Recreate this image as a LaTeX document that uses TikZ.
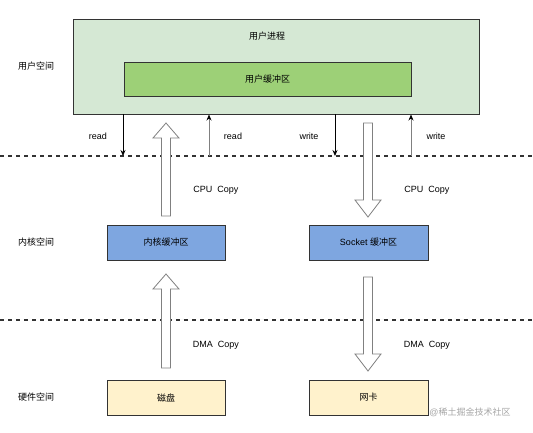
\documentclass[tikz,border=0pt]{standalone}
\usepackage{fontspec}
\setmainfont{Liberation Sans}
\newfontfamily\cjk{Noto Sans CJK SC}
\usetikzlibrary{arrows.meta}
\definecolor{outergreen}{HTML}{D5E8D4}
\definecolor{innergreen}{HTML}{9DD077}
\definecolor{kernblue}{HTML}{7EA6E0}
\definecolor{hwyellow}{HTML}{FFF2CC}
\definecolor{edgegray}{HTML}{333333}
\tikzset{
  box/.style={draw=edgegray, line width=0.8pt, inner sep=0pt, font=\fontsize{9}{10}\selectfont},
  lbl/.style={inner sep=0pt, font=\fontsize{9}{10}\selectfont},
  divider/.style={draw=edgegray, line width=1.3pt, dash pattern=on 4pt off 4pt},
  downarr/.style={draw=black, line width=0.8pt, -{Stealth[length=6pt,width=5pt]}},
  uparr/.style={draw=gray, line width=0.8pt, -{Stealth[length=6pt,width=5pt,color=black]}},
  hollow/.style={draw=gray, fill=white, line width=0.8pt, line join=miter},
}
\newcommand\hollowup[3]{% x, ybottom, ytop
  \draw[hollow] (#1-4.5,#2) -- (#1-4.5,#3+15) -- (#1-13,#3+15) -- (#1,#3) -- (#1+13,#3+15) -- (#1+4.5,#3+15) -- (#1+4.5,#2) -- cycle;}
\newcommand\hollowdown[3]{% x, ytop, ytip
  \draw[hollow] (#1-4.5,#2) -- (#1-4.5,#3-17) -- (#1-13,#3-17) -- (#1,#3) -- (#1+13,#3-17) -- (#1+4.5,#3-17) -- (#1+4.5,#2) -- cycle;}
\begin{document}
\begin{tikzpicture}[x=1pt,y=-1pt]
\useasboundingbox[fill=white] (0,0) rectangle (533,432);
% dividers
\coordinate (d1a) at (0,156); \coordinate (d1b) at (533,156);
\coordinate (d2a) at (0,320); \coordinate (d2b) at (533,320);
\draw[divider] (d1a) -- (d1b);
\draw[divider] (d2a) -- (d2b);
% user space
\node[box, fill=outergreen, minimum width=406pt, minimum height=95pt] (proc) at (276,66.5) {};
\node[lbl] (proclbl) at (267,36) {\cjk 用户进程};
\node[box, fill=innergreen, minimum width=287pt, minimum height=34pt] (ubuf) at (267.5,79) {\cjk 用户缓冲区};
% side labels
\node[lbl] (us) at (36,66) {\cjk 用户空间};
\node[lbl] (ks) at (36,242) {\cjk 内核空间};
\node[lbl] (hs) at (36,397) {\cjk 硬件空间};
% kernel boxes
\node[box, fill=kernblue, minimum width=118pt, minimum height=35pt] (kbuf) at (166,242.5) {\cjk 内核缓冲区};
\node[box, fill=kernblue, minimum width=119pt, minimum height=35pt] (sbuf) at (368.5,242.5) {Socket {\cjk 缓冲区}};
% hardware boxes
\node[box, fill=hwyellow, minimum width=118pt, minimum height=35pt] (disk) at (166,397.5) {\cjk 磁盘};
\node[box, fill=hwyellow, minimum width=119pt, minimum height=35pt] (nic) at (368.5,397.5) {\cjk 网卡};
% read/write arrows
\coordinate (r1s) at (123,114); \coordinate (r1e) at (123,156);
\coordinate (r2s) at (209,156); \coordinate (r2e) at (209,114.5);
\coordinate (w1s) at (335,114); \coordinate (w1e) at (335,156);
\coordinate (w2s) at (411,156); \coordinate (w2e) at (411,114.5);
\draw[downarr] (r1s) -- (r1e);
\draw[uparr] (r2s) -- (r2e);
\draw[downarr] (w1s) -- (w1e);
\draw[uparr] (w2s) -- (w2e);
\node[lbl] (rl1) at (98,136.5) {read};
\node[lbl] (rl2) at (233,136.5) {read};
\node[lbl] (wl1) at (309,136.5) {write};
\node[lbl] (wl2) at (436,136.5) {write};
% hollow copy arrows
\hollowup{166}{216}{123}
\hollowdown{368}{123}{217}
\hollowup{166}{368}{274}
\hollowdown{368}{277}{371}
\node[lbl] (cpu1) at (216,190.5) {CPU\ \ Copy};
\node[lbl] (cpu2) at (427,190.5) {CPU\ \ Copy};
\node[lbl] (dma1) at (216,345) {DMA\ \ Copy};
\node[lbl] (dma2) at (427,345) {DMA\ \ Copy};
\node[lbl, text=gray!70, font=\fontsize{9}{10}\selectfont] (wm) at (470,412) {@{\cjk 稀土掘金技术社区}};
\end{tikzpicture}
\end{document}
